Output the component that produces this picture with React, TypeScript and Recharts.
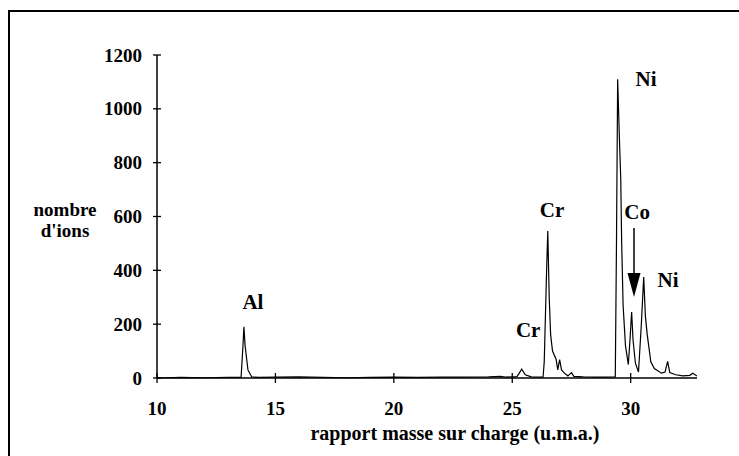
import { LineChart, Line, XAxis, YAxis, ReferenceDot, ReferenceLine } from "recharts";

// mass-to-charge ratio (u.m.a.) and ion counts
const massCharge = [
  10.0, 11.0, 12.0, 13.0, 13.55, 13.63, 13.67, 13.72, 13.84, 14.0, 14.3, 15.0, 16.0, 17.0, 18.0,
  19.0, 20.0, 21.0, 22.0, 23.0, 24.0, 24.5, 24.7, 25.2, 25.4, 25.55, 25.8, 26.3, 26.35, 26.45,
  26.5, 26.56, 26.62, 26.7, 26.85, 26.92, 27.0, 27.08, 27.2, 27.35, 27.5, 27.6, 28.0, 28.5, 29.0,
  29.35, 29.4, 29.45, 29.52, 29.58, 29.62, 29.68, 29.78, 29.9, 29.97, 30.04, 30.1, 30.2, 30.33,
  30.45, 30.55, 30.62, 30.7, 30.85, 31.0, 31.3, 31.45, 31.56, 31.65, 31.9, 32.2, 32.5, 32.62,
  32.75, 32.8,
];
const ionCounts = [
  0, 2, 1, 2, 2, 120, 190, 120, 30, 4, 2, 3, 4, 2, 1,
  2, 3, 2, 3, 3, 4, 6, 3, 5, 33, 12, 4, 3, 60, 400,
  546, 300, 160, 100, 70, 30, 68, 30, 18, 8, 20, 6, 4, 3, 3,
  4, 500, 1110, 900, 740, 500, 270, 120, 50, 140, 245, 140, 55, 22,
  200, 375, 230, 160, 60, 35, 18, 22, 62, 20, 12, 8, 10, 18,
  10, 8,
];

const xTicks = [10, 15, 20, 25, 30];
const yTicks = [0, 200, 400, 600, 800, 1000, 1200];

// element labels placed in data coordinates
const peakNames = ["Al", "Cr", "Cr", "Ni", "Co", "Ni"];
const peakLabelX = [14.05, 25.67, 26.68, 30.65, 30.27, 31.58];
const peakLabelY = [282, 178, 624, 1111, 617, 364];

// arrow pointing at the Co peak
const arrowX = 30.14;
const arrowFrom = 557;
const arrowTo = 301;

const data = massCharge.map((mz, i) => ({ mz, count: ionCounts[i] }));

const FONT = '"Liberation Serif", "Times New Roman", serif';

const YTick = (props: any) => {
  const { x, y, payload } = props;
  return (
    <g>
      <line x1={x - 4} x2={x + 4} y1={y} y2={y} stroke="#000" strokeWidth={1.3} />
      <text x={x - 15} y={y} dy="0.35em" textAnchor="end" fontFamily={FONT} fontWeight="bold" fontSize={19} fill="#000">
        {payload.value}
      </text>
    </g>
  );
};

const XTick = (props: any) => {
  const { x, y, payload } = props;
  return (
    <g>
      <line x1={x} x2={x} y1={y - 5} y2={y + 5} stroke="#000" strokeWidth={1.3} />
      <text x={x} y={y + 30} dy="0.35em" textAnchor="middle" fontFamily={FONT} fontWeight="bold" fontSize={19} fill="#000">
        {payload.value}
      </text>
    </g>
  );
};

const App = () => {
  return (
    <div style={{ position: "absolute", left: 0, top: 0, width: 739, height: 456, background: "#fff", overflow: "hidden" }}>
      {/* frame around the figure */}
      <div
        style={{
          position: "absolute",
          left: 8,
          top: 10,
          width: 760,
          height: 480,
          borderTop: "2px solid #000",
          borderLeft: "2px solid #000",
        }}
      />
      <LineChart
        width={739}
        height={456}
        data={data}
        margin={{ top: 55, right: 42, bottom: 48, left: 97 }}
        style={{ position: "absolute", left: 0, top: 0 }}
      >
        <XAxis
          dataKey="mz"
          type="number"
          domain={[10, 32.8]}
          ticks={xTicks}
          height={30}
          tickLine={false}
          tickSize={0}
          tickMargin={0}
          tick={<XTick />}
          axisLine={{ stroke: "#000", strokeWidth: 1.5 }}
          allowDataOverflow
          label={{
            content: (p: any) => (
              <text
                x={p.viewBox.x + 298}
                y={p.viewBox.y + 55}
                dy="0.35em"
                textAnchor="middle"
                fontFamily={FONT}
                fontWeight="bold"
                fontSize={20}
                fill="#000"
              >
                rapport masse sur charge (u.m.a.)
              </text>
            ),
          }}
        />
        <YAxis
          type="number"
          domain={[0, 1200]}
          ticks={yTicks}
          width={60}
          tickLine={false}
          tickSize={0}
          tickMargin={0}
          tick={<YTick />}
          axisLine={{ stroke: "#000", strokeWidth: 1.5 }}
          label={{
            content: (p: any) => (
              <text x={p.viewBox.x - 32} y={p.viewBox.y + 154} textAnchor="middle" fontFamily={FONT} fontWeight="bold" fontSize={19} fill="#000">
                <tspan x={p.viewBox.x - 32} dy="0.35em">nombre</tspan>
                <tspan x={p.viewBox.x - 32} dy="1.1em">d'ions</tspan>
              </text>
            ),
          }}
        />
        <Line
          type="linear"
          dataKey="count"
          stroke="#000"
          strokeWidth={1.2}
          dot={false}
          isAnimationActive={false}
        />
        <ReferenceLine
          segment={[
            { x: arrowX, y: arrowFrom },
            { x: arrowX, y: arrowTo + 80 },
          ]}
          stroke="#000"
          strokeWidth={1.5}
        />
        <ReferenceDot
          x={arrowX}
          y={arrowTo}
          r={0}
          shape={(p: any) => (
            <polygon points={`${p.cx - 6.5},${p.cy - 24} ${p.cx + 6.5},${p.cy - 24} ${p.cx},${p.cy}`} fill="#000" />
          )}
        />
        {peakNames.map((name, i) => (
          <ReferenceDot
            key={i}
            x={peakLabelX[i]}
            y={peakLabelY[i]}
            r={0}
            shape={(p: any) => (
              <text x={p.cx} y={p.cy} dy="0.35em" textAnchor="middle" fontFamily={FONT} fontWeight="bold" fontSize={21} fill="#000">
                {name}
              </text>
            )}
          />
        ))}
      </LineChart>
    </div>
  );
};

export default App;
